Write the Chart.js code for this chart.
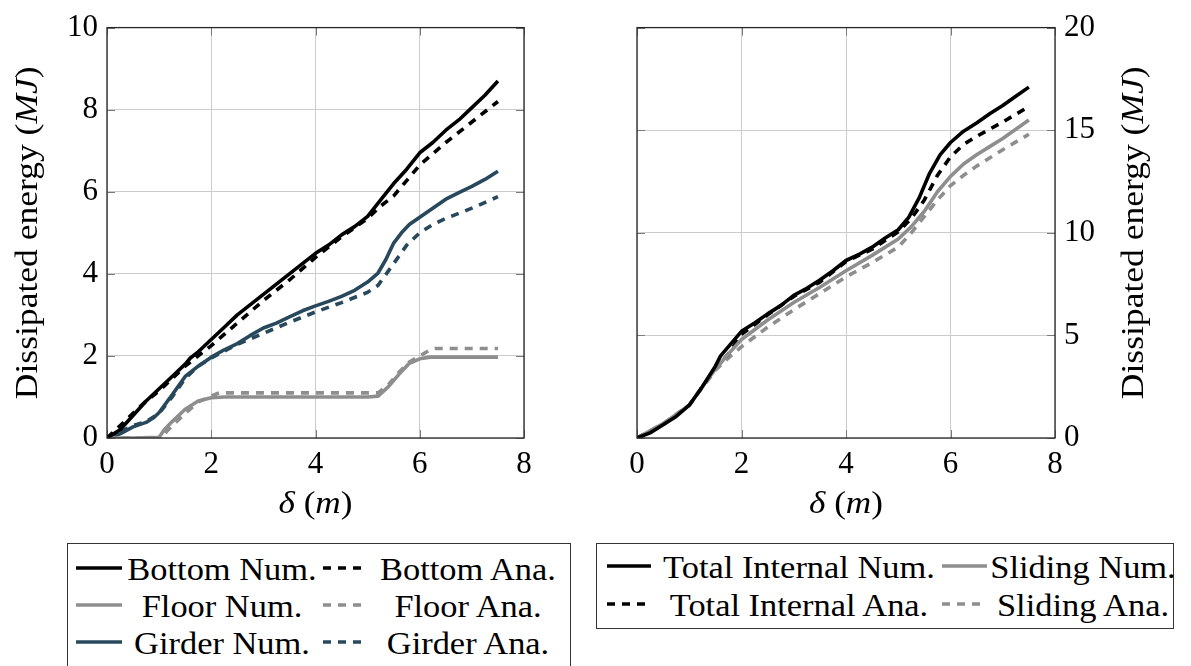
<!DOCTYPE html>
<html><head><meta charset="utf-8">
<script src="https://cdn.jsdelivr.net/npm/chart.js@4.4.0/dist/chart.umd.min.js"></script>
<style>
html,body{margin:0;padding:0;background:#fff;width:1191px;height:666px;overflow:hidden;position:relative;font-family:'Liberation Serif',serif;color:#000;}
canvas{position:absolute;top:0;}
.box{position:absolute;border:1.3px solid #333;box-sizing:border-box;}
.lline{position:absolute;}
.ltext{position:absolute;white-space:nowrap;font-size:31px;line-height:31px;transform:translate(-50%,-50%) scaleX(1.11);}
.preload{position:absolute;left:-999px;top:-999px;font-size:30px;}
</style></head><body>
<span class="preload">0 <i>MJ δ</i></span>
<canvas id="c1" width="580" height="530" style="left:0px"></canvas>
<canvas id="c2" width="601" height="530" style="left:590px"></canvas>
<div class="box" style="left:67px;top:543px;width:504px;height:140px"></div>
<div class="box" style="left:596px;top:543px;width:578px;height:86px"></div>
<div id="lg"></div>
<script>
// ---------------- DATA ----------------
const xTicks = [0, 2, 4, 6, 8];
const yTicksLeft = [0, 2, 4, 6, 8, 10];
const yTicksRight = [0, 5, 10, 15, 20];

const yTitleParts = [["Dissipated energy (", false], ["MJ", true], [")", false]];
const xTitleParts = [["δ", true], [" (", false], ["m", true], [")", false]];

// Left chart
const bottomNumX = [0,0.25,0.5,0.75,1.0,1.25,1.5,1.6,1.75,2.0,2.25,2.5,2.75,3.0,3.25,3.5,3.75,4.0,4.25,4.5,4.75,5.0,5.25,5.5,5.75,6.0,6.25,6.5,6.75,7.0,7.25,7.5];
const bottomNumY = [0,0.2,0.55,0.9,1.2,1.5,1.8,1.95,2.1,2.4,2.7,3.0,3.25,3.5,3.75,4.0,4.25,4.5,4.7,4.95,5.15,5.4,5.8,6.2,6.55,6.95,7.2,7.5,7.75,8.05,8.35,8.7];
const bottomAnaX = [0,0.25,0.5,0.75,1.0,1.25,1.5,1.75,2.0,2.5,3.0,3.5,4.0,4.5,5.0,5.25,5.5,6.0,6.5,7.0,7.5];
const bottomAnaY = [0,0.3,0.6,0.9,1.15,1.45,1.75,2.0,2.25,2.8,3.35,3.85,4.4,4.9,5.35,5.65,5.9,6.65,7.2,7.7,8.2];
const floorNumX = [0,0.5,1.0,1.1,1.25,1.5,1.75,2.0,2.25,3.0,4.0,5.0,5.2,5.4,5.6,5.8,6.0,6.2,7.5];
const floorNumY = [0,0,0.02,0.2,0.4,0.7,0.9,0.98,1.0,1.0,1.0,1.0,1.02,1.25,1.55,1.82,1.93,1.97,1.97];
const floorAnaX = [0,1.0,1.1,1.25,1.5,1.75,2.0,2.15,5.2,5.4,5.6,5.8,6.0,6.2,6.3,7.5];
const floorAnaY = [0,0,0.1,0.3,0.6,0.88,1.02,1.1,1.1,1.3,1.6,1.85,2.0,2.15,2.18,2.18];
const girderNumX = [0,0.25,0.5,0.75,0.9,1.0,1.25,1.5,1.75,2.0,2.25,2.5,2.75,3.0,3.25,3.5,3.75,4.0,4.25,4.5,4.75,5.0,5.2,5.35,5.5,5.65,5.8,6.0,6.25,6.5,6.75,7.0,7.25,7.5];
const girderNumY = [0,0.1,0.27,0.38,0.5,0.62,1.05,1.5,1.75,1.97,2.15,2.3,2.5,2.68,2.8,2.95,3.1,3.22,3.33,3.45,3.6,3.8,4.02,4.35,4.75,5.0,5.2,5.38,5.6,5.82,5.98,6.13,6.3,6.5];
const girderAnaX = [0,0.25,0.5,0.75,1.0,1.25,1.5,1.75,2.0,2.5,3.0,3.5,4.0,4.5,5.0,5.2,5.5,5.75,6.0,6.25,6.5,7.0,7.5];
const girderAnaY = [0,0.15,0.3,0.4,0.6,1.0,1.45,1.75,1.95,2.28,2.55,2.82,3.07,3.3,3.55,3.72,4.25,4.7,5.0,5.2,5.35,5.6,5.88];

// Right chart
const totalNumX = [0,0.25,0.5,0.75,1.0,1.25,1.5,1.6,1.8,2.0,2.25,2.5,2.75,3.0,3.25,3.5,3.75,4.0,4.25,4.5,4.75,5.0,5.2,5.4,5.6,5.8,6.0,6.25,6.5,6.75,7.0,7.25,7.5];
const totalNumY = [0,0.25,0.65,1.05,1.6,2.5,3.5,4.0,4.6,5.2,5.6,6.05,6.45,6.95,7.3,7.7,8.15,8.65,8.95,9.3,9.75,10.15,10.75,11.7,12.9,13.8,14.4,14.95,15.35,15.8,16.2,16.65,17.1];
const totalAnaX = [0,0.5,1.0,1.25,1.5,1.75,2.0,2.5,3.0,3.5,4.0,4.5,5.0,5.25,5.5,5.75,6.0,6.25,6.5,7.0,7.5];
const totalAnaY = [0,0.65,1.6,2.5,3.4,4.1,5.05,6.0,6.9,7.6,8.6,9.2,10.05,10.7,11.6,12.8,13.7,14.3,14.7,15.4,16.15];
const slidingNumX = [0,0.5,1.0,1.25,1.5,1.75,2.0,2.5,3.0,3.5,4.0,4.5,5.0,5.25,5.5,5.75,6.0,6.25,6.5,6.75,7.0,7.25,7.5];
const slidingNumY = [0,0.7,1.6,2.5,3.35,4.1,4.8,5.75,6.6,7.35,8.15,8.9,9.7,10.3,11.05,12.0,12.75,13.35,13.8,14.2,14.6,15.05,15.5];
const slidingAnaX = [0,0.5,1.0,1.25,1.5,1.75,2.0,2.5,3.0,3.5,4.0,4.5,5.0,5.25,5.5,5.75,6.0,6.25,6.5,7.0,7.5];
const slidingAnaY = [0,0.7,1.6,2.45,3.3,3.9,4.45,5.4,6.25,7.05,7.85,8.55,9.3,10.0,10.8,11.6,12.3,12.8,13.25,14.05,14.8];

// ---------------- STYLE ----------------
const BLACK = '#000000', GRAY = '#8e8e8e', BLUE = '#28485c';
const DASH = [8, 7];
const FONT = 'Liberation Serif';

function pts(xs, ys){ return xs.map((x,i)=>({x:x, y:ys[i]})); }
function ds(label, xs, ys, color, dashed){
  return {label, data: pts(xs, ys), borderColor: color, backgroundColor: color,
    borderWidth: 3.6, borderDash: dashed ? DASH : [], borderCapStyle: 'butt',
    borderJoinStyle: 'round', pointRadius: 0, tension: 0, fill: false};
}

function drawParts(ctx, parts, cx, cy, rot, size, stretch){
  ctx.save();
  ctx.translate(cx, cy);
  ctx.rotate(rot);
  ctx.scale(stretch, 1);
  ctx.textBaseline = 'middle';
  ctx.textAlign = 'left';
  ctx.fillStyle = '#000';
  const fonts = parts.map(p => (p[1] ? 'italic ' : '') + size + 'px "' + FONT + '", serif');
  const widths = parts.map((p,i) => { ctx.font = fonts[i]; return ctx.measureText(p[0]).width; });
  const total = widths.reduce((a,b)=>a+b, 0);
  let x = -total/2;
  parts.forEach((p,i) => { ctx.font = fonts[i]; ctx.fillText(p[0], x, 0); x += widths[i]; });
  ctx.restore();
}

const framePlugin = {
  id: 'frameTitles',
  beforeDatasetsDraw(chart){
    const {ctx, chartArea: a, scales} = chart;
    const tl = 8;
    ctx.save();
    ctx.strokeStyle = '#7a7a7a';
    ctx.lineWidth = 1;
    ctx.beginPath();
    scales.x.ticks.forEach(t => {
      const px = Math.round(scales.x.getPixelForValue(t.value)) + 0.5;
      ctx.moveTo(px, a.bottom); ctx.lineTo(px, a.bottom - tl);
      ctx.moveTo(px, a.top); ctx.lineTo(px, a.top + tl);
    });
    scales.y.ticks.forEach(t => {
      const py = Math.round(scales.y.getPixelForValue(t.value)) + 0.5;
      ctx.moveTo(a.left, py); ctx.lineTo(a.left + tl, py);
      ctx.moveTo(a.right, py); ctx.lineTo(a.right - tl, py);
    });
    ctx.stroke();
    ctx.restore();
  },
  afterDraw(chart){
    const {ctx, chartArea: a} = chart;
    ctx.save();
    ctx.strokeStyle = '#262626';
    ctx.lineWidth = 1.3;
    ctx.strokeRect(a.left, a.top, a.right - a.left, a.bottom - a.top);
    ctx.restore();
    const o = chart.options.plugins.frameTitles;
    const cy = (a.top + a.bottom) / 2;
    drawParts(ctx, yTitleParts, o.yTitleX, cy, -Math.PI/2, 32, 1.11);
    drawParts(ctx, xTitleParts, (a.left + a.right)/2, o.xTitleY, 0, 32, 1.1);
  }
};

function makeChart(id, datasets, yTicks, side, yWidth, padding, titleX){
  const yMax = yTicks[yTicks.length-1];
  return new Chart(document.getElementById(id), {
    type: 'line',
    data: {datasets},
    plugins: [framePlugin],
    options: {
      responsive: false, animation: false, devicePixelRatio: 1,
      layout: {padding},
      plugins: {legend: {display: false}, tooltip: {enabled: false},
        frameTitles: {yTitleX: titleX, xTitleY: 505}},
      scales: {
        x: {type: 'linear', min: 0, max: 8,
          afterBuildTicks: s => { s.ticks = xTicks.map(v => ({value: v})); },
          afterFit: s => { s.height = 92; },
          ticks: {color: '#000', font: {family: "'Liberation Serif', serif", size: 31}, padding: 8, maxRotation: 0},
          grid: {color: '#cccccc', lineWidth: 1, drawTicks: false},
          border: {display: false}},
        y: {type: 'linear', min: 0, max: yMax, position: side,
          afterBuildTicks: s => { s.ticks = yTicks.map(v => ({value: v})); },
          afterFit: s => { s.width = yWidth; },
          ticks: {color: '#000', font: {family: "'Liberation Serif', serif", size: 31}, padding: 9},
          grid: {color: '#cccccc', lineWidth: 1, drawTicks: false},
          border: {display: false}}
      }
    }
  });
}

const leftSets = [
  ds('Bottom Num.', bottomNumX, bottomNumY, BLACK, false),
  ds('Bottom Ana.', bottomAnaX, bottomAnaY, BLACK, true),
  ds('Floor Num.', floorNumX, floorNumY, GRAY, false),
  ds('Floor Ana.', floorAnaX, floorAnaY, GRAY, true),
  ds('Girder Num.', girderNumX, girderNumY, BLUE, false),
  ds('Girder Ana.', girderAnaX, girderAnaY, BLUE, true)
];
const rightSets = [
  ds('Total Internal Num.', totalNumX, totalNumY, BLACK, false),
  ds('Sliding Num.', slidingNumX, slidingNumY, GRAY, false),
  ds('Total Internal Ana.', totalAnaX, totalAnaY, BLACK, true),
  ds('Sliding Ana.', slidingAnaX, slidingAnaY, GRAY, true)
];

// ---------------- LEGENDS (HTML, generated from the chart datasets) ----------------
const leftLegendLayout = {cols: [{x0: 76, x1: 122, tc: 222}, {x0: 323, x1: 368, tc: 468}], rows: [568, 605, 642]};
const rightLegendLayout = {cols: [{x0: 607, x1: 651, tc: 799}, {x0: 942, x1: 987, tc: 1083}], rows: [566, 604]};

function buildLegend(chart, layout){
  const host = document.getElementById('lg');
  chart.data.datasets.forEach((d, i) => {
    const col = layout.cols[i % 2], y = layout.rows[Math.floor(i / 2)];
    const w = col.x1 - col.x0;
    const ns = 'http://www.w3.org/2000/svg';
    const svg = document.createElementNS(ns, 'svg');
    svg.setAttribute('width', w); svg.setAttribute('height', 8);
    svg.setAttribute('class', 'lline');
    svg.style.left = col.x0 + 'px'; svg.style.top = (y - 4) + 'px';
    const ln = document.createElementNS(ns, 'line');
    ln.setAttribute('x1', 0); ln.setAttribute('x2', w); ln.setAttribute('y1', 4); ln.setAttribute('y2', 4);
    ln.setAttribute('stroke', d.borderColor); ln.setAttribute('stroke-width', 3.4);
    if (d.borderDash.length) ln.setAttribute('stroke-dasharray', d.borderDash.join(' '));
    svg.appendChild(ln);
    host.appendChild(svg);
    const sp = document.createElement('span');
    sp.className = 'ltext';
    sp.textContent = d.label;
    sp.style.left = col.tc + 'px'; sp.style.top = (y + 1) + 'px';
    host.appendChild(sp);
  });
}

let charts = [];
function start(){
  const c1 = makeChart('c1', leftSets, yTicksLeft, 'left', 107, {top: 22, right: 56, left: 0, bottom: 0}, 29);
  const c2 = makeChart('c2', rightSets, yTicksRight, 'right', 136, {top: 22, right: 0, left: 47, bottom: 0}, 1135 - 590);
  charts = [c1, c2];
  buildLegend(c1, leftLegendLayout);
  buildLegend(c2, rightLegendLayout);
}

document.fonts.load('30px "Liberation Serif"');
document.fonts.load('italic 30px "Liberation Serif"', 'MJmδ');
document.fonts.ready.then(() => {
  start();
  requestAnimationFrame(() => charts.forEach(c => c.update()));
});
</script>
</body></html>
